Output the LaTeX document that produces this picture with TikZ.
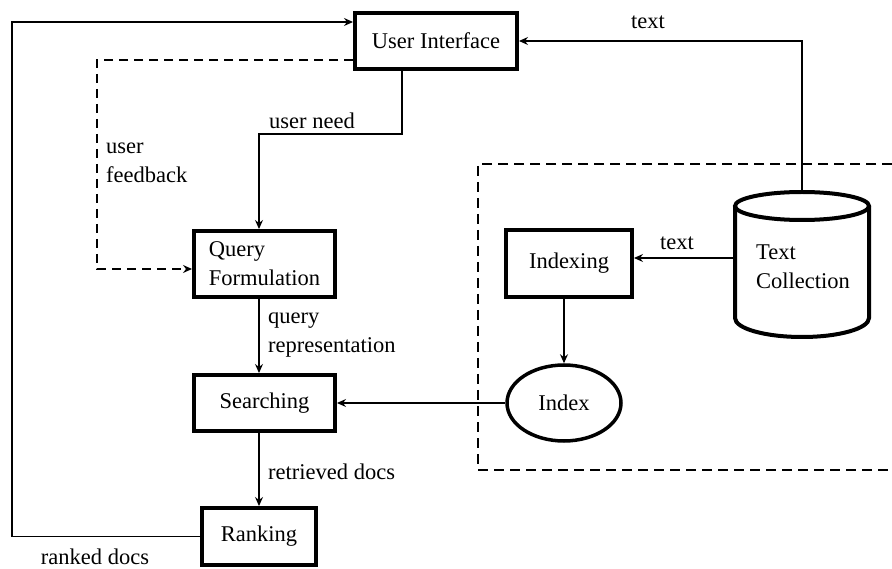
\documentclass[tikz,border=0pt]{standalone}
\usepackage{fontspec}
\setmainfont{Liberation Serif}
\usetikzlibrary{arrows.meta,shapes.geometric,calc}
\begin{document}
\begin{tikzpicture}[x=1pt,y=-1pt,
  font=\fontsize{22.5}{29}\selectfont,
  box/.style={draw,line width=4pt,rectangle,inner sep=0pt,align=left},
  conn/.style={line width=1.3pt,-{Stealth[length=9pt,width=8pt,inset=3pt]}},
  fbdash/.style={line width=2pt,dash pattern=on 9pt off 6pt,-{Stealth[length=9pt,width=8pt,inset=3pt]}},
  lbl/.style={inner sep=0pt,align=left}]
\useasboundingbox (0,0) rectangle (892,569);

% dashed region
\draw[line width=1.5pt,dash pattern=on 10pt off 6pt] (892,164) -- (478,164) -- (478,470);
\draw[line width=2.2pt,dash pattern=on 10pt off 6pt] (478,470) -- (892,470);

\node[box,minimum width=162pt,minimum height=56pt] (ui) at (436,41) {User Interface};
\node[box,minimum width=141pt,minimum height=66pt] (query) at (264.5,264) {Query\\Formulation};
\node[box,minimum width=141pt,minimum height=56pt] (search) at (264.5,403) {Searching};
\node[box,minimum width=114pt,minimum height=57pt] (rank) at (259,536.5) {Ranking};
\node[box,minimum width=126pt,minimum height=67pt] (indexing) at (569,263.5) {Indexing};
\node[draw,ellipse,line width=3.5pt,minimum width=114pt,minimum height=76pt,inner sep=0pt] (index) at (564,403) {Index};

% cylinder
\draw[line width=4pt] (735,206) -- (735,318) arc[start angle=180,end angle=360,x radius=67pt,y radius=19pt] -- (869,206);
\draw[line width=4pt] (802,206) ellipse[x radius=67pt,y radius=14pt];
\node[lbl] (tc) at (803,267) {Text\\Collection};
\coordinate (tctop) at (802,192);
\coordinate (tcleft) at (735,258);

% connectors
\draw[conn] (rank.west) -- ++(-188,0) |- ([yshift=19pt]ui.west);
\coordinate (fbcorner) at (97,269);
\draw[fbdash] ([yshift=-19pt]ui.west) -| (fbcorner) -- (fbcorner -| query.west);
\draw[conn] ([xshift=-34pt]ui.south) -- ++(0,63) -| ([xshift=-5.5pt]query.north);
\draw[conn] ([xshift=-5.5pt]query.south) -- ([xshift=-5.5pt]search.north);
\draw[conn] ([xshift=-5.5pt]search.south) -- (rank.north);
\draw[conn] (index.west) -- (search.east);
\draw[conn] ([xshift=-5pt]indexing.south) -- (index.north);
\draw[conn] (tcleft) -- (tcleft -| indexing.east);
\draw[conn] (tctop) |- (ui.east);

% labels
\node[lbl] at (312,121) {user need};
\node[lbl,anchor=west] at (106,163) {user\\feedback};
\node[lbl,anchor=west] at (268,335) {query\\representation};
\node[lbl,anchor=west] at (268,472) {retrieved docs};
\node[lbl] at (95,557) {ranked docs};
\node[lbl] at (648,22) {text};
\node[lbl] at (677,243) {text};
\end{tikzpicture}
\end{document}
